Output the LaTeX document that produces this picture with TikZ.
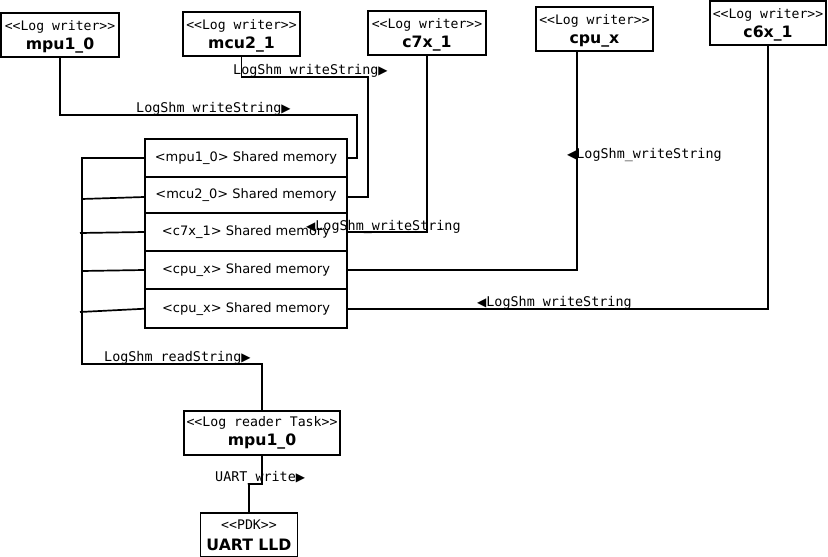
\documentclass[tikz,border=0pt]{standalone}
\usepackage{fontspec}
\usetikzlibrary{calc}
\newfontfamily\dvmono{DejaVu Sans Mono}
\newfontfamily\dvsans{DejaVu Sans}
\newcommand\rtri{{\dvsans\fontsize{12}{12}\selectfont ▶}}
\newcommand\ltri{{\dvsans\fontsize{12}{12}\selectfont ◀}}
\newcommand\ename[1]{{\dvsans\bfseries\fontsize{15.7}{18}\selectfont #1}}
\newcommand\toppad{\rule{0pt}{14pt}}
\tikzset{
  box/.style={draw, line width=1.7pt, inner sep=0pt, align=center},
  writer/.style={box, minimum width=117pt, minimum height=44pt,
    font=\dvmono\fontsize{13.1}{19.5}\selectfont},
  shm/.style={box, minimum width=202pt, font=\dvsans\fontsize{13}{15}\selectfont},
  conn/.style={line width=1.7pt},
  lbl/.style={inner sep=0pt, anchor=base west, font=\dvmono\fontsize{13.4}{15}\selectfont},
}
\begin{document}
\begin{tikzpicture}[x=1pt,y=-1pt]
\useasboundingbox (0,0) rectangle (828,557);

% log writers
\node[writer, minimum width=118pt] (w1) at (60,35)   {\toppad<{}<Log writer>{}>\\\ename{mpu1\_0}};
\node[writer] (w2) at (241.5,34) {\toppad<{}<Log writer>{}>\\\ename{mcu2\_1}};
\node[writer, minimum width=118pt] (w3) at (427,33) {\toppad<{}<Log writer>{}>\\\ename{c7x\_1}};
\node[writer] (w4) at (594.5,29) {\toppad<{}<Log writer>{}>\\\ename{cpu\_x}};
\node[writer, minimum width=116pt] (w5) at (768,23) {\toppad<{}<Log writer>{}>\\\ename{c6x\_1}};

% shared memory stack
\node[shm, minimum height=38pt] (s1) at (246,158)   {\raisebox{-1pt}{<mpu1\_0> Shared memory}};
\node[shm, minimum height=36pt] (s2) at (246,195)   {\raisebox{-1.5pt}{<mcu2\_0> Shared memory}};
\node[shm, minimum height=38pt] (s3) at (246,232)   {\raisebox{-1pt}{<c7x\_1> Shared memory}};
\node[shm, minimum height=38pt] (s4) at (246,270)   {\raisebox{-1pt}{<cpu\_x> Shared memory}};
\node[shm, minimum height=38.5pt] (s5) at (246,308.75) {\raisebox{-1pt}{<cpu\_x> Shared memory}};

% reader and driver
\node[writer, minimum width=156pt, font=\dvmono\fontsize{13.2}{19}\selectfont] (r) at (262,433)
  {<{}<Log reader Task>{}>\\\ename{mpu1\_0}};
\node[writer, minimum width=97pt, font=\dvmono\fontsize{13.2}{21}\selectfont] (u) at (249,535)
  {<{}<PDK>{}>\\\ename{UART LLD}};

% call labels
\node[lbl] (l1) at (136,112)   {LogShm\_writeString\rtri};
\node[lbl] (l2) at (233,74.5)  {LogShm\_writeString\rtri};
\node[lbl] (l3) at (306,230.5) {\ltri LogShm\_writeString};
\node[lbl] (l4) at (567,158)   {\ltri LogShm\_writeString};
\node[lbl] (l5) at (477,306.5) {\ltri LogShm\_writeString};
\node[lbl] (l6) at (104,361.5) {LogShm\_readString\rtri};
\node[lbl] (l7) at (215,481.5) {UART\_write\rtri};

% writer connections
\draw[conn] (w1.south) |- (357,115) |- (s1.east);
\draw[conn] (w2.south) |- (368,77) |- ($(s2.east)+(0,2)$);
\draw[conn] (w3.south) |- (s3.east);
\draw[conn] ($(w4.south)+(-17.5,0)$) |- (s4.east);
\draw[conn] (w5.south) |- (s5.east);

% reader bus
\draw[conn] (s1.west) -| (82,364) -| (r.north);
\draw[conn] ($(s2.west)+(0,2)$) -- (82,199);
\draw[conn] (s3.west) -- (80,233);
\draw[conn] (s4.west) -- (82,271);
\draw[conn] (s5.west) -- (80,312);

% reader to UART
\draw[conn] (r.south) |- (249,484) -- (u.north);
\end{tikzpicture}
\end{document}
